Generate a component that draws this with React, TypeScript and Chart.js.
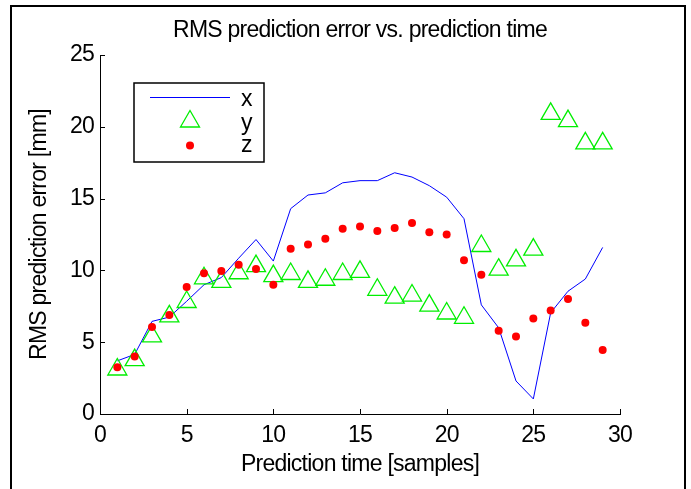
import React, { useEffect, useRef } from "react";
import { Chart, registerables } from "chart.js";

Chart.register(...registerables);

const samples = [1, 2, 3, 4, 5, 6, 7, 8, 9, 10, 11, 12, 13, 14, 15, 16, 17, 18, 19, 20, 21, 22, 23, 24, 25, 26, 27, 28, 29];
const errX = [3.7, 4.15, 6.45, 6.75, 7.85, 9.0, 9.5, 10.85, 12.15, 10.65, 14.3, 15.25, 15.4, 16.1, 16.25, 16.25, 16.8, 16.5, 15.9, 15.1, 13.6, 7.6, 6.0, 2.3, 1.05, 7.05, 8.55, 9.4, 11.6];
const errY = [3.1, 3.75, 5.4, 6.8, 7.8, 9.45, 9.2, 9.8, 10.3, 9.6, 9.75, 9.2, 9.35, 9.75, 9.9, 8.65, 8.1, 8.25, 7.55, 7.0, 6.7, 11.7, 10.05, 10.7, 11.45, 20.9, 20.4, 18.85, 18.85];
const errZ = [3.25, 4.0, 6.05, 6.9, 8.85, 9.8, 9.95, 10.4, 10.1, 9.0, 11.5, 11.8, 12.2, 12.9, 13.05, 12.75, 12.95, 13.3, 12.65, 12.5, 10.7, 9.7, 5.8, 5.4, 6.65, 7.2, 8.0, 6.35, 4.45];
const seriesNames = ["x", "y", "z"];
const titleText = "RMS prediction error vs. prediction time";
const xTitle = "Prediction time [samples]";
const yTitle = "RMS prediction error [mm]";

const FONT = '"Liberation Sans", Arial, Helvetica, sans-serif';
const FSIZE = 23;
const LSP = "-0.75px";

const setSpacing = {
  id: "setSpacing",
  beforeUpdate(chart: any) {
    (chart.ctx as any).letterSpacing = LSP;
  },
  beforeDraw(chart: any) {
    (chart.ctx as any).letterSpacing = LSP;
  },
};

const frame = {
  id: "frame",
  beforeDraw(chart: any) {
    const ctx = chart.ctx;
    ctx.save();
    ctx.fillStyle = "#fff";
    ctx.fillRect(0, 0, chart.width, chart.height);
    ctx.strokeStyle = "#000";
    ctx.lineWidth = 2;
    ctx.strokeRect(11, 6, 674, 600);
    ctx.restore();
  },
  afterDraw(chart: any) {
    const ctx = chart.ctx;
    const { left, right, top, bottom } = chart.chartArea;
    const xs = chart.scales.x;
    const ys = chart.scales.y;
    ctx.save();
    (ctx as any).letterSpacing = LSP;
    ctx.strokeStyle = "#000";
    ctx.lineWidth = 1;
    ctx.beginPath();
    xs.ticks.forEach((t: any) => {
      const px = Math.round(xs.getPixelForValue(t.value)) + 0.5;
      ctx.moveTo(px, bottom);
      ctx.lineTo(px, bottom - 5);
    });
    ys.ticks.forEach((t: any) => {
      const py = Math.round(ys.getPixelForValue(t.value)) + 0.5;
      ctx.moveTo(left, py);
      ctx.lineTo(left + 5, py);
    });
    ctx.stroke();
    // title
    ctx.fillStyle = "#000";
    ctx.font = `${FSIZE}px ${FONT}`;
    ctx.textAlign = "center";
    ctx.textBaseline = "alphabetic";
    ctx.fillText(titleText, (left + right) / 2, 37);
    // legend
    const ds = chart.data.datasets;
    ctx.fillStyle = "#fff";
    ctx.fillRect(134, 83, 130, 79);
    ctx.strokeStyle = "#000";
    ctx.lineWidth = 1.5;
    ctx.strokeRect(134, 83, 130, 79);
    ctx.strokeStyle = ds[0].borderColor;
    ctx.lineWidth = 1;
    ctx.beginPath();
    ctx.moveTo(150, 97.5);
    ctx.lineTo(230, 97.5);
    ctx.stroke();
    const r = 11;
    const cx = 190;
    const cy = 121.5;
    ctx.strokeStyle = ds[1].borderColor;
    ctx.lineWidth = ds[1].borderWidth;
    ctx.beginPath();
    ctx.moveTo(cx, cy - r);
    ctx.lineTo(cx + Math.sin((2 * Math.PI) / 3) * r, cy + r / 2);
    ctx.lineTo(cx - Math.sin((2 * Math.PI) / 3) * r, cy + r / 2);
    ctx.closePath();
    ctx.stroke();
    ctx.fillStyle = ds[2].backgroundColor;
    ctx.beginPath();
    ctx.arc(190, 145.5, 4, 0, Math.PI * 2);
    ctx.fill();
    ctx.fillStyle = "#000";
    ctx.textAlign = "left";
    ctx.fillText(ds[0].label, 241, 106);
    ctx.fillText(ds[1].label, 241, 130);
    ctx.fillText(ds[2].label, 241, 152);
    ctx.restore();
  },
};

export default function App() {
  const ref = useRef<HTMLCanvasElement | null>(null);
  useEffect(() => {
    if (!ref.current) return;
    const toPts = (vals: number[]) => samples.map((s, i) => ({ x: s, y: vals[i] }));
    const chart = new Chart(ref.current, {
      type: "scatter",
      data: {
        datasets: [
          {
            label: seriesNames[0],
            data: toPts(errX),
            showLine: true,
            borderColor: "#0000ff",
            backgroundColor: "#0000ff",
            borderWidth: 1,
            pointRadius: 0,
            tension: 0,
            order: 3,
          },
          {
            label: seriesNames[1],
            data: toPts(errY),
            showLine: false,
            pointStyle: "triangle",
            pointRadius: 11,
            borderColor: "#00ee00",
            backgroundColor: "rgba(0,0,0,0)",
            borderWidth: 1.3,
            order: 2,
          },
          {
            label: seriesNames[2],
            data: toPts(errZ),
            showLine: false,
            pointStyle: "circle",
            pointRadius: 4,
            borderWidth: 0,
            borderColor: "#ff0000",
            backgroundColor: "#ff0000",
            order: 1,
          },
        ],
      },
      options: {
        animation: false,
        responsive: false,
        maintainAspectRatio: false,
        devicePixelRatio: 1,
        layout: { padding: { left: 0, right: 71, top: 55, bottom: 0 } },
        font: { family: FONT, size: FSIZE },
        plugins: {
          legend: { display: false },
          title: { display: false },
          tooltip: { enabled: false },
        },
        scales: {
          x: {
            type: "linear",
            min: 0,
            max: 30,
            grid: { display: false, drawTicks: false },
            border: { display: true, color: "#000", width: 1 },
            ticks: {
              stepSize: 5,
              padding: 8,
              color: "#000",
              font: { family: FONT, size: FSIZE },
              maxRotation: 0,
            },
            title: {
              display: true,
              text: xTitle,
              color: "#000",
              font: { family: FONT, size: FSIZE },
              padding: { top: 0, bottom: 11 },
            },
            afterFit: (s: any) => {
              s.height = 75;
            },
          },
          y: {
            type: "linear",
            min: 0,
            max: 25,
            grid: { display: false, drawTicks: false },
            border: { display: true, color: "#000", width: 1 },
            ticks: {
              stepSize: 5,
              padding: 6,
              color: "#000",
              font: { family: FONT, size: FSIZE },
            },
            title: {
              display: true,
              text: yTitle,
              color: "#000",
              font: { family: FONT, size: FSIZE },
              padding: { top: 26, bottom: 0 },
            },
            afterFit: (s: any) => {
              s.width = 100;
            },
          },
        },
      },
      plugins: [setSpacing, frame],
    });
    return () => chart.destroy();
  }, []);
  return (
    <div style={{ position: "fixed", left: 0, top: 0, width: 691, height: 489, background: "#fff" }}>
      <canvas ref={ref} width={691} height={489} style={{ display: "block", width: 691, height: 489 }} />
    </div>
  );
}
